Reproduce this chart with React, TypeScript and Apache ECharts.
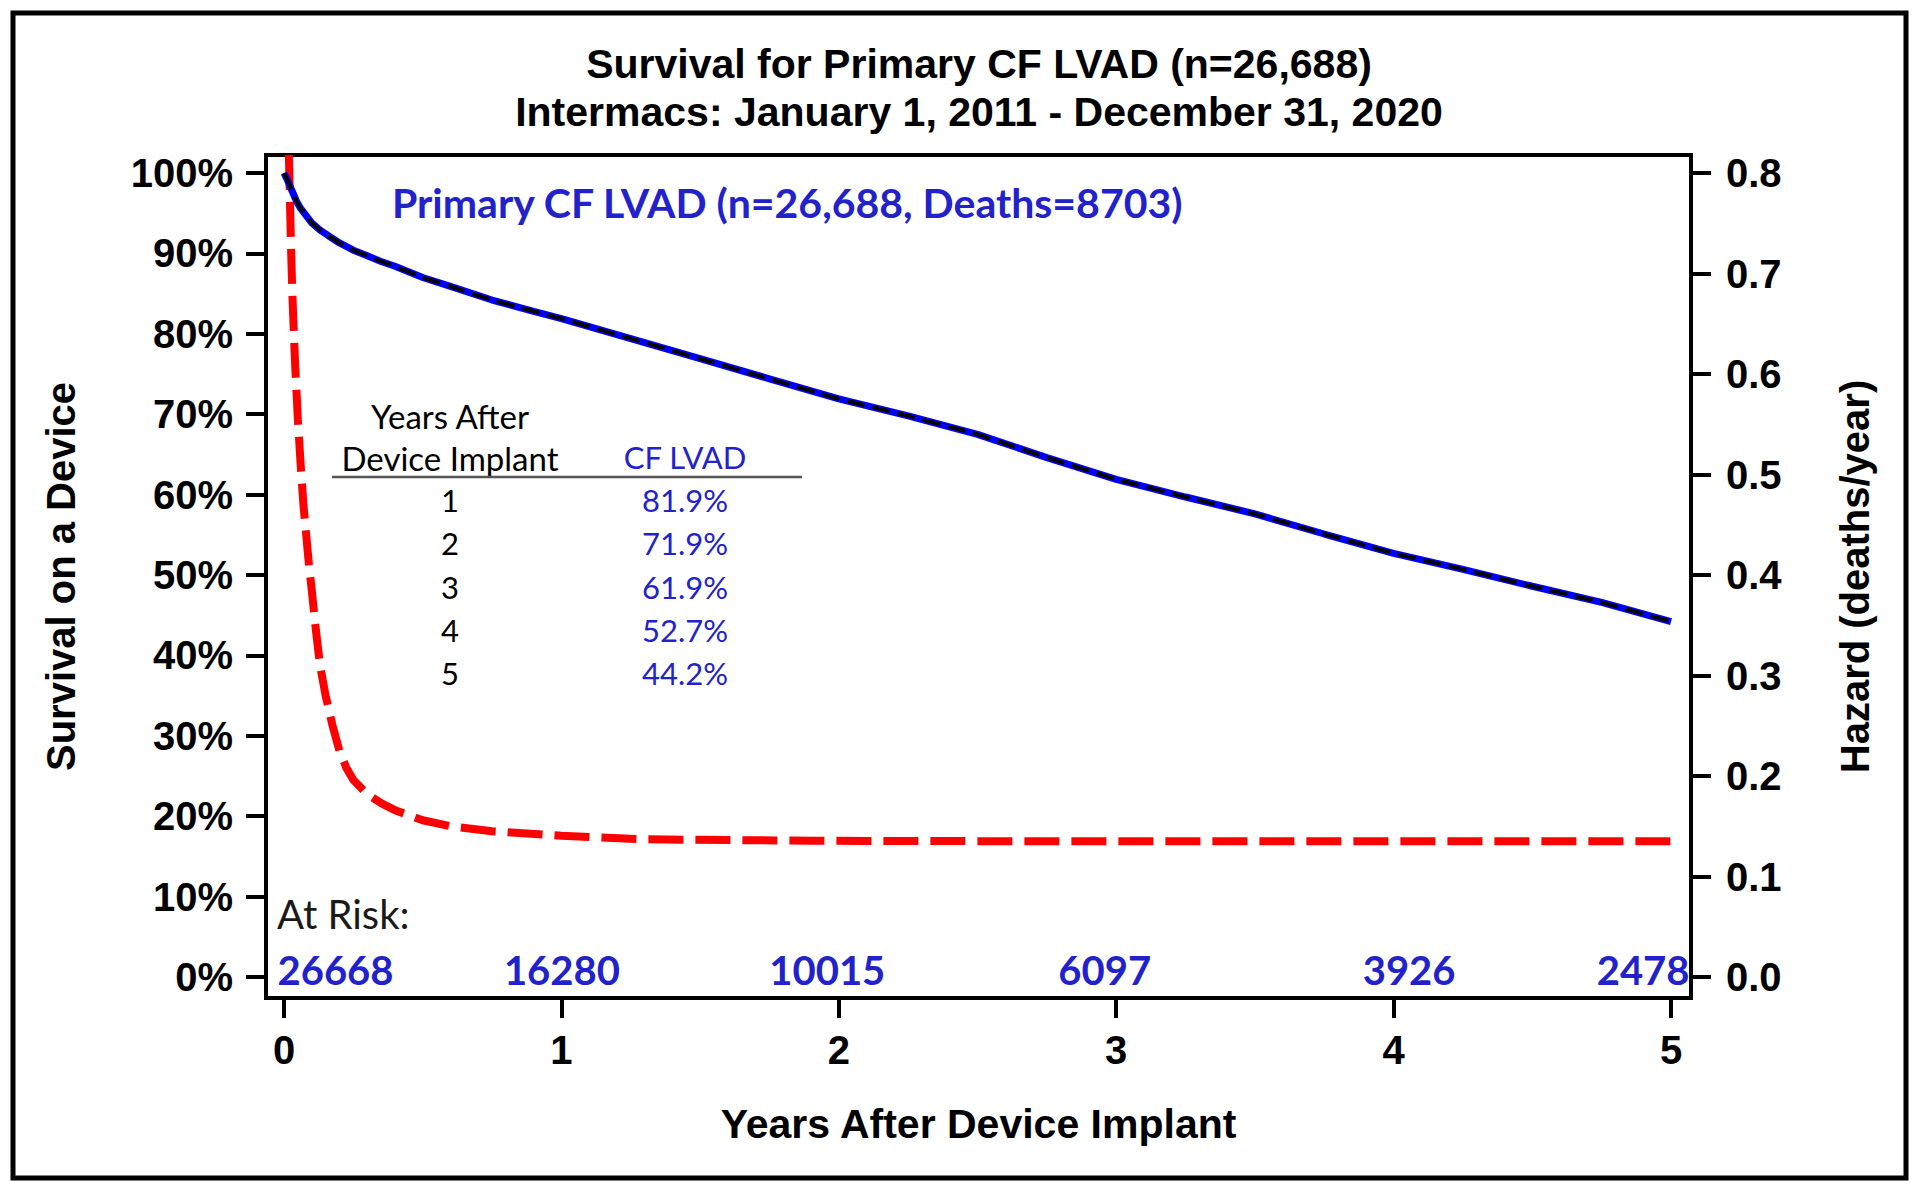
import React, { useEffect, useRef } from "react";
import * as echarts from "echarts";

// ---------- texts ----------
const TITLE_LINE_1 = "Survival for Primary CF LVAD (n=26,688)";
const TITLE_LINE_2 = "Intermacs: January 1, 2011 - December 31, 2020";
const CURVE_LABEL = "Primary CF LVAD (n=26,688, Deaths=8703)";
const X_AXIS_NAME = "Years After Device Implant";
const Y_LEFT_NAME = "Survival on a Device";
const Y_RIGHT_NAME = "Hazard (deaths/year)";
const AT_RISK_TITLE = "At Risk:";

// ---------- ticks ----------
const xTickValues = [0, 1, 2, 3, 4, 5];
const survivalTickValues = [0, 10, 20, 30, 40, 50, 60, 70, 80, 90, 100];
const hazardTickValues = [0, 0.1, 0.2, 0.3, 0.4, 0.5, 0.6, 0.7, 0.8];

// ---------- survival curve (percent) ----------
const survivalYears = [
  0, 0.01, 0.02, 0.03, 0.045, 0.06, 0.08, 0.1, 0.13, 0.16, 0.2, 0.25, 0.3, 0.35, 0.4,
  0.5, 0.6, 0.75, 0.9, 1.0, 1.25, 1.5, 1.75, 2.0, 2.25, 2.5, 2.75, 3.0, 3.25, 3.5,
  3.75, 4.0, 4.25, 4.5, 4.75, 5.0,
];
const survivalPct = [
  100, 99.3, 98.5, 97.7, 96.5, 95.6, 94.7, 93.8, 92.9, 92.2, 91.3, 90.4, 89.7, 89.0, 88.4,
  87.0, 85.9, 84.2, 82.8, 81.9, 79.4, 76.9, 74.4, 71.9, 69.8, 67.5, 64.6, 61.9, 59.7, 57.6,
  55.1, 52.7, 50.7, 48.6, 46.6, 44.2,
];

// ---------- hazard curve (deaths/year) ----------
const hazardYears = [
  0.0175, 0.02, 0.025, 0.03, 0.04, 0.05, 0.06, 0.07, 0.08, 0.09, 0.1, 0.115, 0.13, 0.15,
  0.175, 0.2, 0.225, 0.25, 0.3, 0.35, 0.4, 0.5, 0.6, 0.75, 1.0, 1.3, 1.9, 2.5, 3.0, 3.5,
  4.0, 4.5, 5.0,
];
const hazardRate = [
  0.818, 0.79, 0.73, 0.68, 0.61, 0.555, 0.51, 0.47, 0.44, 0.41, 0.385, 0.345, 0.31, 0.28,
  0.25, 0.225, 0.208, 0.196, 0.182, 0.173, 0.166, 0.156, 0.15, 0.145, 0.1405, 0.137,
  0.1356, 0.1352, 0.135, 0.135, 0.135, 0.135, 0.135,
];

// ---------- at risk ----------
const atRiskYears = [0, 1, 2, 3, 4, 5];
const atRiskCounts = [26668, 16280, 10015, 6097, 3926, 2478];

// ---------- survival table ----------
const tableHeaderLeft = ["Years After", "Device Implant"];
const tableHeaderRight = "CF LVAD";
const tableYears = ["1", "2", "3", "4", "5"];
const tableSurvival = ["81.9%", "71.9%", "61.9%", "52.7%", "44.2%"];

// ---------- styles ----------
const ARIAL = '"Liberation Sans", Arial, sans-serif';
const CALIBRI = 'Lato, "Open Sans", sans-serif';
const TEXT_BLUE = "#2222cc";
const atRiskLabelLayout = [
  { align: "left", dx: -6 },
  { align: "center", dx: 1 },
  { align: "center", dx: -11 },
  { align: "center", dx: -11 },
  { align: "center", dx: 16 },
  { align: "right", dx: 19 },
];

export default function App() {
  const ref = useRef<HTMLDivElement>(null);

  useEffect(() => {
    if (!ref.current) return;
    const chart = echarts.init(ref.current, undefined, { renderer: "svg" });

    const survData = survivalYears.map((x, i) => [x, survivalPct[i]]);
    const hazData = hazardYears.map((x, i) => [x, hazardRate[i]]);
    const riskData = atRiskYears.map((x, i) => ({
      value: [x, 0],
      label: {
        align: atRiskLabelLayout[i].align,
        verticalAlign: "middle",
        position: [atRiskLabelLayout[i].dx, -7],
      },
    }));

    const axisLabelBase = {
      fontSize: 41,
      fontWeight: "bold",
      fontFamily: ARIAL,
      color: "#000",
    };
    const tickLabelBase = { ...axisLabelBase, fontSize: 40 };
    const tickBase = { show: true, inside: false, length: 20, lineStyle: { color: "#000", width: 4 } };

    const tableRowY0 = 500;
    const tableRowStep = 43.3;
    const tableFont = `normal 31px ${CALIBRI}`;
    const headFont = `normal 33px ${CALIBRI}`;
    const graphics: any[] = [
      {
        type: "rect",
        shape: { x: 13, y: 13, width: 1893, height: 1165 },
        style: { fill: "none", stroke: "#000", lineWidth: 5 },
        silent: true,
      },
      {
        type: "text",
        x: 979,
        y: 64,
        style: { text: TITLE_LINE_1, font: `bold 41px ${ARIAL}`, fill: "#000", align: "center", verticalAlign: "middle" },
      },
      {
        type: "text",
        x: 979,
        y: 112,
        style: { text: TITLE_LINE_2, font: `bold 41px ${ARIAL}`, fill: "#000", align: "center", verticalAlign: "middle" },
      },
      {
        type: "text",
        x: 392,
        y: 202,
        style: { text: CURVE_LABEL, font: `bold 41px ${CALIBRI}`, fill: TEXT_BLUE, align: "left", verticalAlign: "middle" },
      },
      {
        type: "text",
        x: 277,
        y: 914,
        style: { text: AT_RISK_TITLE, font: `normal 40px ${CALIBRI}`, fill: "#1a1a1a", align: "left", verticalAlign: "middle" },
      },
      {
        type: "text",
        x: 450,
        y: 416,
        style: { text: tableHeaderLeft[0], font: headFont, fill: "#000", align: "center", verticalAlign: "middle" },
      },
      {
        type: "text",
        x: 450,
        y: 458,
        style: { text: tableHeaderLeft[1], font: headFont, fill: "#000", align: "center", verticalAlign: "middle" },
      },
      {
        type: "text",
        x: 685,
        y: 457,
        style: { text: tableHeaderRight, font: tableFont, fill: TEXT_BLUE, align: "center", verticalAlign: "middle" },
      },
      {
        type: "line",
        shape: { x1: 332, y1: 477, x2: 802, y2: 477 },
        style: { stroke: "#555", lineWidth: 2.5 },
      },
    ];
    tableYears.forEach((yr, i) => {
      graphics.push({
        type: "text",
        x: 450,
        y: tableRowY0 + i * tableRowStep,
        style: { text: yr, font: tableFont, fill: "#000", align: "center", verticalAlign: "middle" },
      });
      graphics.push({
        type: "text",
        x: 685,
        y: tableRowY0 + i * tableRowStep,
        style: { text: tableSurvival[i], font: tableFont, fill: TEXT_BLUE, align: "center", verticalAlign: "middle" },
      });
    });

    chart.setOption({
      animation: false,
      backgroundColor: "#fff",
      grid: {
        left: 266,
        top: 155,
        right: 229,
        bottom: 194,
        show: true,
        borderColor: "#000",
        borderWidth: 4,
        backgroundColor: "transparent",
        containLabel: false,
      },
      xAxis: {
        type: "value",
        min: -0.0649,
        max: 5.072,
        name: X_AXIS_NAME,
        nameLocation: "middle",
        nameGap: 105,
        nameTextStyle: { ...axisLabelBase },
        axisLine: { show: false, onZero: false },
        splitLine: { show: false },
        axisTick: { ...tickBase, customValues: xTickValues },
        axisLabel: { ...tickLabelBase, margin: 32, customValues: xTickValues, formatter: (v: number) => String(v) },
      },
      yAxis: [
        {
          type: "value",
          position: "left",
          min: -2.61,
          max: 102.24,
          name: Y_LEFT_NAME,
          nameLocation: "middle",
          nameRotate: 90,
          nameGap: 185,
          nameTextStyle: { ...axisLabelBase, fontSize: 40 },
          axisLine: { show: false, onZero: false },
          splitLine: { show: false },
          axisTick: { ...tickBase, customValues: survivalTickValues },
          axisLabel: { ...tickLabelBase, margin: 33, customValues: survivalTickValues, formatter: (v: number) => `${v}%` },
        },
        {
          type: "value",
          position: "right",
          min: -0.02088,
          max: 0.81792,
          name: Y_RIGHT_NAME,
          nameLocation: "middle",
          nameRotate: 90,
          nameGap: 144,
          nameTextStyle: { ...axisLabelBase, fontSize: 40 },
          axisLine: { show: false, onZero: false },
          splitLine: { show: false },
          axisTick: { ...tickBase, customValues: hazardTickValues },
          axisLabel: { ...tickLabelBase, margin: 35, customValues: hazardTickValues, formatter: (v: number) => v.toFixed(1) },
        },
      ],
      series: [
        {
          type: "line",
          name: "hazard",
          yAxisIndex: 1,
          data: hazData,
          showSymbol: false,
          symbol: "none",
          smooth: false,
          clip: false,
          lineStyle: { color: "#ff0000", width: 8, type: [35, 12] },
          z: 2,
        },
        {
          type: "line",
          name: "survivalBlue",
          yAxisIndex: 0,
          data: survData,
          showSymbol: false,
          symbol: "none",
          lineStyle: { color: "#0000ff", width: 7 },
          z: 3,
        },
        {
          type: "line",
          name: "survivalBlack",
          yAxisIndex: 0,
          data: survData,
          showSymbol: false,
          symbol: "none",
          lineStyle: { color: "#000", width: 4, type: [18, 8] },
          z: 4,
        },
        {
          type: "scatter",
          name: "atRisk",
          yAxisIndex: 0,
          data: riskData,
          symbolSize: 1,
          itemStyle: { color: "#fff", opacity: 1 },
          label: {
            show: true,
            formatter: (p: any) => String(atRiskCounts[p.dataIndex]),
            fontSize: 40,
            fontWeight: "bold",
            fontFamily: CALIBRI,
            color: TEXT_BLUE,
            opacity: 1,
            textBorderWidth: 0,
          },
          emphasis: { disabled: true },
          labelLayout: { hideOverlap: false },
          z: 5,
        },
      ],
      graphic: graphics,
    });

    return () => chart.dispose();
  }, []);

  return (
    <div
      ref={ref}
      style={{ position: "fixed", left: 0, top: 0, width: 1920, height: 1192, background: "#fff" }}
    />
  );
}
